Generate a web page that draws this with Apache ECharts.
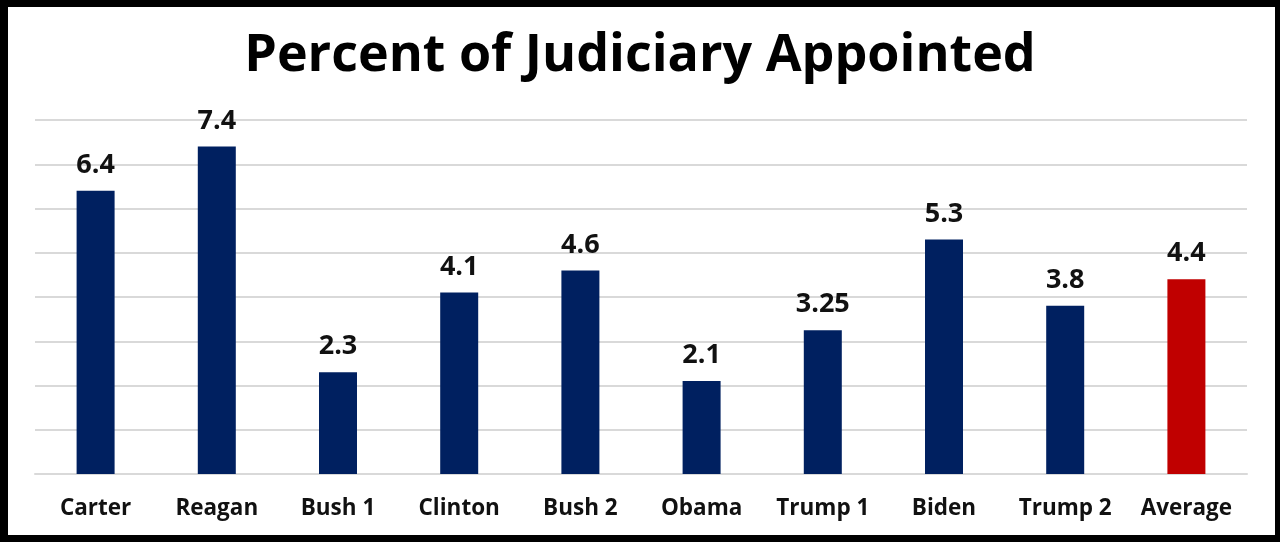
<!DOCTYPE html>
<html>
<head>
<meta charset="utf-8">
<script src="https://cdn.jsdelivr.net/npm/echarts@6/dist/echarts.min.js"></script>
<style>
  html, body { margin: 0; padding: 0; background: #fff; }
  #wrap { position: relative; width: 1280px; height: 542px; }
  #chart { position: absolute; left: 0; top: 0; width: 1280px; height: 542px; }
  #frame { position: absolute; left: 0; top: 0; width: 1280px; height: 542px; box-sizing: border-box;
           border-style: solid; border-color: #000; border-width: 7px 5px 7px 8px; pointer-events: none; }
</style>
</head>
<body>
<div id="wrap">
  <div id="chart"></div>
  <div id="frame"></div>
</div>
<script>
const titleText = 'Percent of Judiciary Appointed';
const categories = ['Carter', 'Reagan', 'Bush 1', 'Clinton', 'Bush 2', 'Obama', 'Trump 1', 'Biden', 'Trump 2', 'Average'];
const values = [6.4, 7.4, 2.3, 4.1, 4.6, 2.1, 3.25, 5.3, 3.8, 4.4];
const highlightCategory = 'Average';

const navy = '#002060';
const red = '#C00000';
const fontFam = '"Open Sans", Lato, sans-serif';

const chart = echarts.init(document.getElementById('chart'), null, { renderer: 'canvas' });
chart.setOption({
  animation: false,
  backgroundColor: '#fff',
  title: {
    text: titleText,
    left: 'center',
    top: 25,
    textStyle: { fontFamily: fontFam, fontWeight: 'bold', fontSize: 52, color: '#000' }
  },
  grid: { left: 35, right: 33, top: 120, bottom: 68 },
  xAxis: {
    type: 'category',
    data: categories,
    axisLine: { show: true, lineStyle: { color: '#d9d9d9', width: 2 } },
    axisTick: { show: false },
    axisLabel: { interval: 0, hideOverlap: false, fontFamily: fontFam, fontWeight: 'bold', fontSize: 22.5, color: '#111', margin: 23 }
  },
  yAxis: {
    type: 'value',
    min: 0, max: 8, interval: 1,
    axisLabel: { show: false },
    axisLine: { show: false },
    axisTick: { show: false },
    splitLine: { lineStyle: { color: '#d9d9d9', width: 2 } }
  },
  series: [{
    type: 'bar',
    barWidth: 38,
    data: values.map((v, i) => ({
      value: v,
      itemStyle: { color: categories[i] === highlightCategory ? red : navy }
    })),
    label: {
      show: true,
      position: 'top',
      distance: 12,
      fontFamily: fontFam,
      fontWeight: 'bold',
      fontSize: 27,
      color: '#111'
    }
  }]
});
</script>
</body>
</html>
